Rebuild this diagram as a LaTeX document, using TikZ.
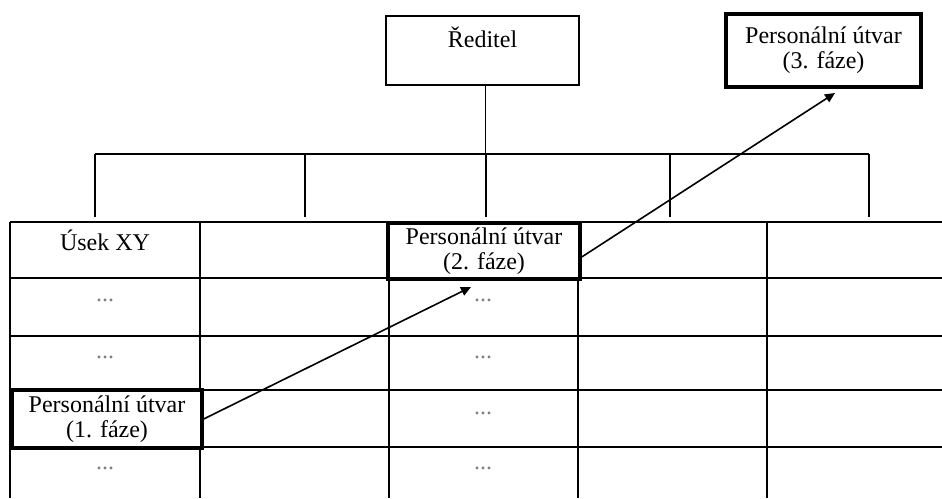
\documentclass[tikz,border=0pt]{standalone}
\usepackage{fontspec}
\setmainfont{Liberation Serif}
\usetikzlibrary{arrows.meta, positioning}
\tikzset{
  orgbox/.style   = {rectangle, draw=black, line width=0.9pt, inner sep=0pt},
  phasebox/.style = {rectangle, draw=black, line width=1.7pt, fill=white, align=center,
                     font=\fontsize{12}{12.5}\selectfont, inner sep=0pt},
  celltxt/.style  = {font=\fontsize{12}{13}\selectfont, inner sep=0pt},
  dots/.style     = {font=\fontsize{12}{13}\selectfont, text=black!50, inner sep=0pt},
  tabline/.style  = {line width=0.9pt, draw=black},
  flow/.style     = {-{Triangle[length=5pt,width=4.5pt]}, line width=0.8pt},
}

\begin{document}
\begin{tikzpicture}[x=0.5pt, y=-0.5pt]
        \useasboundingbox (0,0) rectangle (942,498);
        % tree above the table
        \node[orgbox, minimum width=96.5pt, minimum height=34.5pt,
              label={[celltxt, yshift=6.5pt]center:Ředitel}] (red) at (482.5,50.5) {};
        \coordinate (busL) at (95,154);
        \coordinate (busR) at (869,154);
        \draw[tabline] ([xshift=1.5pt]red.south) -- ([xshift=1.5pt]red.south |- busL);
        \draw[tabline] (busL) -- (busR);
        \foreach \x in {95,305,486,670,869}{\draw[tabline] (\x,154) -- (\x,217);}
        % table
        \foreach \y in {222,278,336,390,447}{\draw[tabline] (10,\y) -- (942,\y);}
        \foreach \x in {10,200,389,578,767}{\draw[tabline] (\x,222) -- (\x,498);}
        \node[celltxt] (usek) at (105,240) {Úsek XY};
        \foreach \r/\y in {a/300, b/357, d/468}{\node[dots] (dl\r) at (105,\y) {...};}
        \foreach \r/\y in {a/300, b/357, c/413, d/468}{\node[dots] (dm\r) at (483,\y) {...};}
        % phases
        \node[phasebox, minimum width=95pt, minimum height=29pt] (ph1) at (107,419) {Personální útvar\\(1. fáze)};
        \node[phasebox, minimum width=96pt, minimum height=28pt] (ph2) at (484,251) {Personální útvar\\(2. fáze)};
        \node[phasebox, minimum width=97.5pt, minimum height=36.5pt] (ph3) at (823.5,50.5) {Personální útvar\\(3. fáze)};
        \coordinate (to2) at (471,287);
        \coordinate (to3) at (835,93);
        \draw[flow] (ph1.east) -- (to2);
        \draw[flow] ([yshift=-3pt]ph2.east) -- (to3);
    \end{tikzpicture}
\end{document}
